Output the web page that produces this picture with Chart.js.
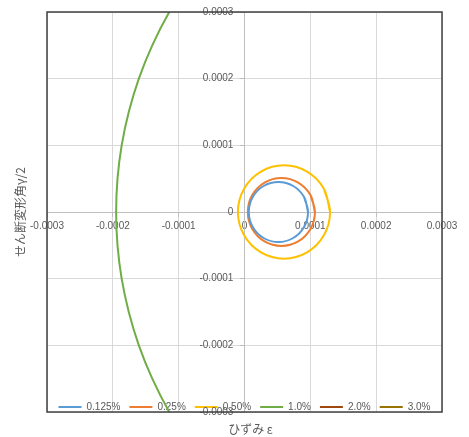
<!DOCTYPE html>
<html>
<head>
<meta charset="utf-8">
<script src="https://cdn.jsdelivr.net/npm/chart.js@4.4.1/dist/chart.umd.min.js"></script>
<style>
  html, body { margin: 0; padding: 0; background: #fff; }
  #wrap { width: 469px; height: 437px; }
</style>
</head>
<body>
<div id="wrap"><canvas id="chart-mohr" width="469" height="437"></canvas></div>
<script>
// axis range (strain / half shear angle)
const axisMin = -0.0003
const axisMax = 0.0003
const axisStep = 0.0001

const seriesLabels = ['0.125%', '0.25%', '0.50%', '1.0%', '2.0%', '3.0%']

// points, walking round each circle
const eps0125 = [0.0000965, 0.0000905, 0.000074, 0.0000515, 0.000029, 0.0000125, 0.0000065, 0.0000125, 0.000029, 0.0000515, 0.000074, 0.0000905, 0.0000965, 0.0000905]
const gam0125 = [0, 0.0000225, 0.000039, 0.000045, 0.000039, 0.0000225, 0, -0.0000225, -0.000039, -0.000045, -0.000039, -0.0000225, 0, 0.0000225]

const eps025 = [0.000107, 0.0001002, 0.0000815, 0.000056, 0.0000305, 0.0000118, 0.000005, 0.0000118, 0.0000305, 0.000056, 0.0000815, 0.0001002, 0.000107, 0.0001002]
const gam025 = [0, 0.0000255, 0.0000442, 0.000051, 0.0000442, 0.0000255, 0, -0.0000255, -0.0000442, -0.000051, -0.0000442, -0.0000255, 0, 0.0000255]

const eps050 = [0.00013, 0.0001206, 0.000095, 0.00006, 0.000025, -0.0000006, -0.00001, -0.0000006, 0.000025, 0.00006, 0.000095, 0.0001206, 0.00013, 0.0001206]
const gam050 = [0, 0.000035, 0.0000606, 0.00007, 0.0000606, 0.000035, 0, -0.000035, -0.0000606, -0.00007, -0.0000606, -0.000035, 0, 0.000035]

const eps10 = [-0.0000816, -0.0001142, -0.0001401, -0.0001605, -0.0001758, -0.0001866, -0.0001929, -0.000195, -0.0001929, -0.0001866, -0.0001758, -0.0001605, -0.0001401, -0.0001142, -0.0000816]
const gam10 = [0.00035, 0.0003, 0.00025, 0.0002, 0.00015, 0.0001, 0.00005, 0, -0.00005, -0.0001, -0.00015, -0.0002, -0.00025, -0.0003, -0.00035]

// 2.0% and 3.0% lie outside the plotted range
const eps20 = []
const gam20 = []
const eps30 = []
const gam30 = []

const seriesX = [eps0125, eps025, eps050, eps10, eps20, eps30]
const seriesY = [gam0125, gam025, gam050, gam10, gam20, gam30]
const seriesColors = ['#5B9BD5', '#ED7D31', '#FFC000', '#70AD47', '#9E480E', '#997300']

const textColor = '#595959'
const gridColor = '#D9D9D9'
const axisColor = '#BFBFBF'

const datasets = seriesLabels.map((label, i) => ({
  label: label,
  data: seriesX[i].map((x, j) => ({ x: x, y: seriesY[i][j] })),
  showLine: true,
  borderColor: seriesColors[i],
  backgroundColor: seriesColors[i],
  borderWidth: 2,
  pointRadius: 0,
  pointHoverRadius: 0,
  tension: 0.35,
  fill: false
}))

const fmt = v => Math.abs(v) < 1e-12 ? '0' : v.toFixed(4)

// frame, axis titles, and legend moved inside the plot
const extras = {
  id: 'extras',
  afterLayout(chart) {
    const lg = chart.legend
    lg.height = 29
    lg.top = 393
    lg.bottom = lg.top + lg.height
  },
  afterDraw(chart) {
    const ctx = chart.ctx
    const a = chart.chartArea
    ctx.save()
    ctx.strokeStyle = '#404040'
    ctx.lineWidth = 1.5
    ctx.strokeRect(a.left, a.top, a.right - a.left, a.bottom - a.top)

    ctx.fillStyle = textColor
    ctx.font = '12px "Noto Sans CJK JP"'
    ctx.textAlign = 'center'
    ctx.textBaseline = 'middle'
    ctx.fillText('ひずみ ε', (a.left + a.right) / 2 + 6, 429)

    ctx.translate(20, (a.top + a.bottom) / 2)
    ctx.rotate(-Math.PI / 2)
    ctx.fillText('せん断変形角γ/2', 0, 0)
    ctx.restore()
  }
}

new Chart(document.getElementById('chart-mohr').getContext('2d'), {
  type: 'scatter',
  data: { datasets: datasets },
  options: {
    responsive: false,
    animation: false,
    layout: { padding: { left: 47, right: 27, top: 12, bottom: 24 } },
    plugins: {
      tooltip: { enabled: false },
      legend: {
        position: 'bottom',
        maxHeight: 1,
        labels: {
          usePointStyle: true,
          pointStyle: 'line',
          pointStyleWidth: 23,
          padding: 9,
          color: textColor,
          font: { family: 'Liberation Sans', size: 10 }
        }
      }
    },
    scales: {
      x: {
        type: 'linear',
        position: { y: 0 },
        min: axisMin,
        max: axisMax,
        ticks: {
          stepSize: axisStep,
          autoSkip: false,
          maxRotation: 0,
          padding: 4,
          color: textColor,
          font: { family: 'Liberation Sans', size: 10 },
          callback: fmt
        },
        grid: { color: gridColor, tickLength: 4, tickColor: axisColor },
        border: { color: axisColor, width: 1 }
      },
      y: {
        type: 'linear',
        position: { x: 0 },
        min: axisMin,
        max: axisMax,
        ticks: {
          stepSize: axisStep,
          autoSkip: false,
          padding: 4,
          color: textColor,
          font: { family: 'Liberation Sans', size: 10 },
          // trailing gap keeps the label clear of the centred axis line
          callback: v => fmt(v) + '    '
        },
        grid: { color: gridColor, tickLength: 4, tickColor: axisColor },
        border: { color: axisColor, width: 1 }
      }
    }
  },
  plugins: [extras]
})
</script>
</body>
</html>
